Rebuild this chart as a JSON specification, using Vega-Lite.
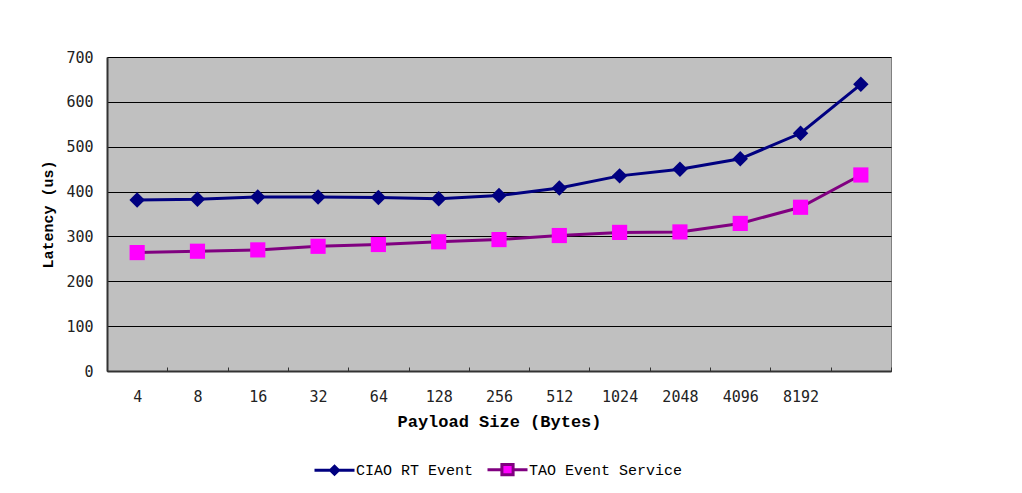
{
  "$schema": "https://vega.github.io/schema/vega-lite/v6.json",
  "width": 784,
  "height": 314,
  "autosize": {"type": "none"},
  "padding": {"left": 107, "top": 57, "right": 131, "bottom": 122},
  "background": "white",
  "config": {
    "view": {"fill": "#C0C0C0", "stroke": "#808080", "strokeWidth": 1},
    "font": "Liberation Sans"
  },
  "data": {
    "values": [
      {"size": "4", "series": "CIAO RT Event", "latency": 381},
      {"size": "8", "series": "CIAO RT Event", "latency": 383},
      {"size": "16", "series": "CIAO RT Event", "latency": 388},
      {"size": "32", "series": "CIAO RT Event", "latency": 388},
      {"size": "64", "series": "CIAO RT Event", "latency": 387},
      {"size": "128", "series": "CIAO RT Event", "latency": 384},
      {"size": "256", "series": "CIAO RT Event", "latency": 391},
      {"size": "512", "series": "CIAO RT Event", "latency": 408},
      {"size": "1024", "series": "CIAO RT Event", "latency": 435},
      {"size": "2048", "series": "CIAO RT Event", "latency": 450},
      {"size": "4096", "series": "CIAO RT Event", "latency": 473},
      {"size": "8192", "series": "CIAO RT Event", "latency": 530},
      {"size": "16384", "series": "CIAO RT Event", "latency": 639},
      {"size": "4", "series": "TAO Event Service", "latency": 264},
      {"size": "8", "series": "TAO Event Service", "latency": 267},
      {"size": "16", "series": "TAO Event Service", "latency": 270},
      {"size": "32", "series": "TAO Event Service", "latency": 278},
      {"size": "64", "series": "TAO Event Service", "latency": 282},
      {"size": "128", "series": "TAO Event Service", "latency": 288},
      {"size": "256", "series": "TAO Event Service", "latency": 293},
      {"size": "512", "series": "TAO Event Service", "latency": 302},
      {"size": "1024", "series": "TAO Event Service", "latency": 309},
      {"size": "2048", "series": "TAO Event Service", "latency": 310},
      {"size": "4096", "series": "TAO Event Service", "latency": 329},
      {"size": "8192", "series": "TAO Event Service", "latency": 365},
      {"size": "16384", "series": "TAO Event Service", "latency": 437}
    ]
  },
  "encoding": {
    "x": {
      "field": "size",
      "type": "ordinal",
      "sort": null,
      "scale": {"paddingInner": 0, "paddingOuter": 0},
      "axis": {
        "title": "Payload Size (Bytes)",
        "titleFont": "Liberation Mono",
        "titleFontWeight": "bold",
        "titleFontSize": 17,
        "titleColor": "black",
        "titlePadding": 9,
        "labelFont": "DejaVu Sans Mono",
        "labelFontSize": 15,
        "labelColor": "#222222",
        "labelAngle": 0,
        "labelPadding": 22,
        "labelExpr": "datum.value == '16384' ? '' : datum.value",
        "tickBand": "extent",
        "tickSize": -4,
        "tickColor": "#333333",
        "domainColor": "#333333",
        "domainWidth": 2,
        "grid": false
      }
    },
    "y": {
      "field": "latency",
      "type": "quantitative",
      "scale": {"domain": [0, 700], "nice": false},
      "axis": {
        "title": "Latency (us)",
        "titleFont": "Liberation Mono",
        "titleFontWeight": "bold",
        "titleFontSize": 15,
        "titleColor": "black",
        "titlePadding": 10,
        "labelFont": "DejaVu Sans Mono",
        "labelFontSize": 15,
        "labelColor": "#222222",
        "labelPadding": 14,
        "values": [0, 100, 200, 300, 400, 500, 600, 700],
        "ticks": false,
        "domainColor": "#333333",
        "domainWidth": 2,
        "grid": true,
        "gridColor": "black",
        "gridWidth": 1,
        "gridOpacity": 1
      }
    }
  },
  "layer": [
    {
      "mark": {"type": "line", "strokeWidth": 3},
      "encoding": {
        "stroke": {
          "field": "series",
          "type": "nominal",
          "scale": {"domain": ["CIAO RT Event", "TAO Event Service"], "range": ["#000080", "#800080"]},
          "legend": {
            "title": null,
            "orient": "none",
            "legendX": 206,
            "legendY": 391,
            "direction": "horizontal",
            "symbolSize": 1600,
            "symbolStrokeWidth": 3,
            "labelFont": "Liberation Mono",
            "labelFontSize": 15,
            "labelColor": "black",
            "labelOffset": 0,
            "columnPadding": 7,
            "encode": {
              "symbols": {
                "update": {
                  "shape": {"signal": "datum.value === 'CIAO RT Event' ? 'M-1,0H1M0,-0.2L0.2,0L0,0.2L-0.2,0Z' : 'M-1,0H-0.28M0.28,0H1M-0.28,-0.26H0.28V0.26H-0.28Z'"},
                  "size": {"value": 1600},
                  "fill": {"signal": "datum.value === 'CIAO RT Event' ? '#000080' : '#FF00FF'"},
                  "strokeWidth": {"value": 3}
                }
              }
            }
          }
        }
      }
    },
    {
      "transform": [{"filter": "datum.series === 'CIAO RT Event'"}],
      "mark": {"type": "point", "shape": "diamond", "size": 240, "filled": true, "fill": "#000080", "opacity": 1, "strokeWidth": 0}
    },
    {
      "transform": [{"filter": "datum.series === 'TAO Event Service'"}],
      "mark": {"type": "point", "shape": "square", "size": 230, "filled": true, "fill": "#FF00FF", "opacity": 1, "strokeWidth": 0}
    }
  ]
}
